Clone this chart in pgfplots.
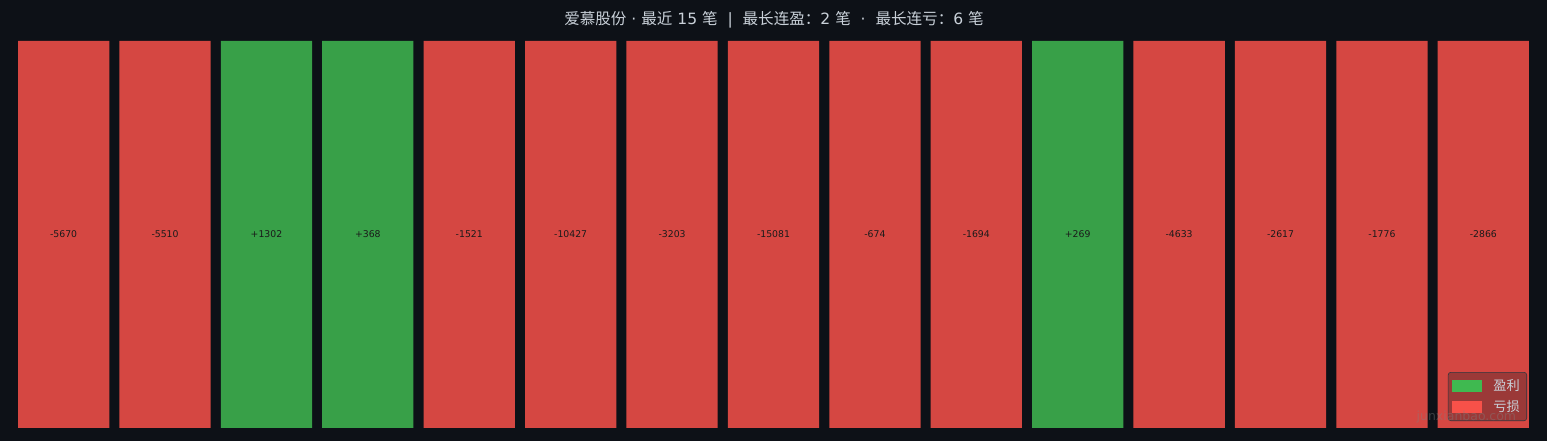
\documentclass[border=0pt]{standalone}
\usepackage{pgfplots}
\pgfplotsset{compat=1.18}
\usepackage{fontspec}
\setmainfont{Noto Sans CJK SC}
\newfontfamily\dejavu{DejaVu Sans}

\definecolor{bg}{HTML}{0D1117}
\definecolor{fg}{HTML}{C9D1D9}
\definecolor{lossC}{HTML}{D54742}
\definecolor{gainC}{HTML}{38A048}
\definecolor{legR}{HTML}{F85149}
\definecolor{legG}{HTML}{3FB950}
\definecolor{legbg}{HTML}{161B22}
\definecolor{legedge}{HTML}{30363D}
\definecolor{labC}{HTML}{1A1A1A}

\begin{document}
\begin{tikzpicture}[x=0.72pt,y=0.72pt]
  \fill[bg] (0,0) rectangle (1547,441);
  \useasboundingbox (0,0) rectangle (1547,441);
  \node[text=fg, font=\fontsize{11.2}{13}\selectfont] at (774,421)
    {爱慕股份{\dejavu\ ·\ }最近{\dejavu\ 15\ }笔{\dejavu\ \ |\ \ }最长连盈：{\dejavu 2\ }笔{\dejavu\ \ ·\ \ }最长连亏：{\dejavu 6\ }笔};

  \begin{axis}[
      at={(12.96pt,9.36pt)}, anchor=south west,
      scale only axis,
      width=1087.92pt, height=278.64pt,
      xmin=-0.45, xmax=14.45, ymin=0, ymax=1,
      hide axis,
      legend cell align=left,
      legend style={
        at={(0.9987,0.018)}, anchor=south east,
        fill=legbg, fill opacity=0.3, text opacity=1,
        draw=legedge, draw opacity=1,
        rounded corners=2pt,
        text=fg, font=\fontsize{9.5}{11}\selectfont,
        inner xsep=3pt, inner ysep=3pt,
        row sep=2pt,
      },
    ]

    % losses
    \addplot[ybar, bar width=0.9, bar shift=0pt, fill=lossC, draw=none, forget plot]
      coordinates {(0,1) (1,1) (4,1) (5,1) (6,1) (7,1) (8,1) (9,1)
                   (11,1) (12,1) (13,1) (14,1)};
    % gains
    \addplot[ybar, bar width=0.9, bar shift=0pt, fill=gainC, draw=none, forget plot]
      coordinates {(2,1) (3,1) (10,1)};

    % value labels
    \addplot[draw=none, mark=none, forget plot,
        nodes near coords, point meta=explicit symbolic,
        nodes near coords style={anchor=center, text=labC,
          font=\dejavu\fontsize{6.7}{8}\selectfont}]
      coordinates {
        (0,0.5) [-5670]
        (1,0.5) [-5510]
        (2,0.5) [+1302]
        (3,0.5) [+368]
        (4,0.5) [-1521]
        (5,0.5) [-10427]
        (6,0.5) [-3203]
        (7,0.5) [-15081]
        (8,0.5) [-674]
        (9,0.5) [-1694]
        (10,0.5) [+269]
        (11,0.5) [-4633]
        (12,0.5) [-2617]
        (13,0.5) [-1776]
        (14,0.5) [-2866]
      };

    \addlegendimage{legend image code/.code={
        \path[fill=legG, fill opacity=1, draw=none, sharp corners] (0pt,-4.3pt) rectangle (21.6pt,4.3pt);}}
    \addlegendentry{\hspace{6pt}盈利}
    \addlegendimage{legend image code/.code={
        \path[fill=legR, fill opacity=1, draw=none, sharp corners] (0pt,-4.3pt) rectangle (21.6pt,4.3pt);}}
    \addlegendentry{\hspace{6pt}亏损}
  \end{axis}

  \node[text=gray, opacity=0.4, font=\dejavu\fontsize{9}{10}\selectfont, anchor=east]
    at (1521,24) {junxianbao.com};
\end{tikzpicture}
\end{document}
